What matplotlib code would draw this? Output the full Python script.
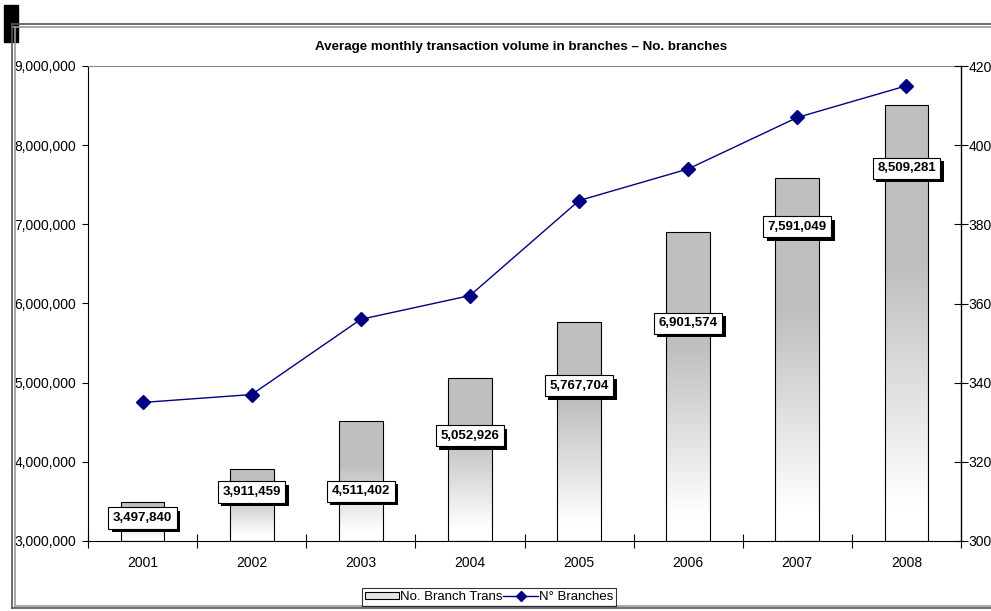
import matplotlib
matplotlib.use("Agg")
import matplotlib.pyplot as plt
import matplotlib.patheffects as pe
import numpy as np
from matplotlib.patches import Patch, Rectangle
from matplotlib.lines import Line2D

plt.rcParams['font.family'] = ['Liberation Sans', 'DejaVu Sans']

years = ['2001', '2002', '2003', '2004', '2005', '2006', '2007', '2008']
transactions = [3497840, 3911459, 4511402, 5052926, 5767704, 6901574, 7591049, 8509281]
branches = [335, 337, 356, 362, 386, 394, 407, 415]
label_y = [3290000, 3620000, 3630000, 4330000, 4960000, 5750000, 6970000, 7710000]
left_ticks = [3000000, 4000000, 5000000, 6000000, 7000000, 8000000, 9000000]
right_ticks = [300, 320, 340, 360, 380, 400, 420]

W, H = 991, 611
fig = plt.figure(figsize=(W / 100, H / 100), dpi=100)

def fx(px):
    return px / W

def fy(py):
    return 1 - py / H

# outer frame (double lines)
for (x0, y0, x1, y1, c) in [
    (12, 24, W, 24, '#555555'), (12, 26.5, W, 26.5, '#999999'),
    (12, 24, 12, 608, '#555555'), (14.5, 26.5, 14.5, 606, '#999999'),
    (12, 608, W, 608, '#555555'), (14.5, 606, W, 606, '#999999'),
]:
    fig.add_artist(Line2D([fx(x0), fx(x1)], [fy(y0), fy(y1)], color=c, lw=1.2))
fig.add_artist(Rectangle((fx(4), fy(42)), fx(14), 37 / H, color='black'))

ax = fig.add_axes([fx(88), fy(541), fx(961 - 88), (541 - 66) / H])
ax2 = ax.twinx()

x = np.arange(len(years))
bw = 0.40

# gradient image (bottom white -> top grey)
t = np.linspace(0, 1, 200)
vals = np.clip((t - 0.08) / 0.55, 0, 1)
grey = 1.0 - vals * (1.0 - 0.75)
img = np.repeat(grey[:, None, None], 3, axis=2)
for xi, v in zip(x, transactions):
    rect = Rectangle((xi - bw / 2, 3000000), bw, v - 3000000, facecolor='none',
                     edgecolor='black', lw=0.8, zorder=3)
    ax.add_patch(rect)
    im = ax.imshow(img, extent=[xi - bw / 2, xi + bw / 2, 3000000, v], origin='lower',
                   aspect='auto', zorder=2, interpolation='bilinear')
    im.set_clip_path(rect)
ax.set_xlim(-0.5, len(years) - 0.5)
ax.set_ylim(3000000, 9000000)

# line on right axis
ax2.set_ylim(300, 420)
ax2.plot(x, branches, color='#000080', lw=1, marker='D', ms=7, zorder=4)
ax2.set_yticks(right_ticks)
ax2.set_yticklabels([str(r) for r in right_ticks], fontsize=10)
ax2.tick_params(axis='y', direction='inout', length=10, width=0.8, pad=0.5)
ax2.patch.set_visible(False)
for sp in ['top', 'left', 'bottom']:
    ax2.spines[sp].set_visible(False)
ax2.spines['right'].set_color('black')
ax2.spines['right'].set_linewidth(1.0)

# data labels with shadow (on top axis layer)
for xi, v, ly in zip(x, transactions, label_y):
    s = f"{v:,}"
    yy = 300 + (ly - 3000000) / 6000000 * 120
    a = ax2.annotate(s, (xi, yy), ha='center', va='center', fontsize=9.5,
                     fontweight='bold', color='black',
                     bbox=dict(boxstyle='square,pad=0.35', fc='white', ec='black', lw=0.8),
                     zorder=6)
    a.get_bbox_patch().set_path_effects([
        pe.SimplePatchShadow(offset=(2.5, -2.5), shadow_rgbFace='black', alpha=1.0),
        pe.Normal()])

ax.set_yticks(left_ticks)
ax.set_yticklabels([f"{v:,}" for v in left_ticks], fontsize=10)
ax.tick_params(axis='y', direction='out', length=4.5, width=0.8, pad=4)
ax.set_xticks(np.arange(-0.5, len(years), 1.0))
ax.set_xticklabels([])
ax.tick_params(axis='x', which='major', direction='inout', length=10, width=0.8)
ax.set_xticks(x, minor=True)
ax.set_xticklabels(years, minor=True, fontsize=10)
ax.tick_params(axis='x', which='minor', length=0, pad=11)
ax.spines['top'].set_color('#888888')
ax.spines['right'].set_visible(False)
ax.spines['left'].set_color('black')
ax.spines['bottom'].set_color('black')

fig.text(fx(521), fy(47), 'Average monthly transaction volume in branches \u2013 No. branches',
         ha='center', va='center', fontsize=9.6, fontweight='bold')

# legend
handles = [Patch(facecolor='#e6e6e6', edgecolor='black', lw=0.8),
           Line2D([0], [0], color='#000080', lw=1, marker='D', ms=5)]
leg = fig.legend(handles, ['No. Branch Trans', 'N\u00b0 Branches'], loc='center',
                 bbox_to_anchor=(fx(489), fy(597)), ncol=2, fontsize=9.5, frameon=True,
                 fancybox=False, edgecolor='black', handlelength=2.6, handletextpad=0.1,
                 columnspacing=0.05, borderpad=0.2, handleheight=0.5)
leg.get_frame().set_linewidth(0.8)

fig.savefig('out.png', dpi=100)
